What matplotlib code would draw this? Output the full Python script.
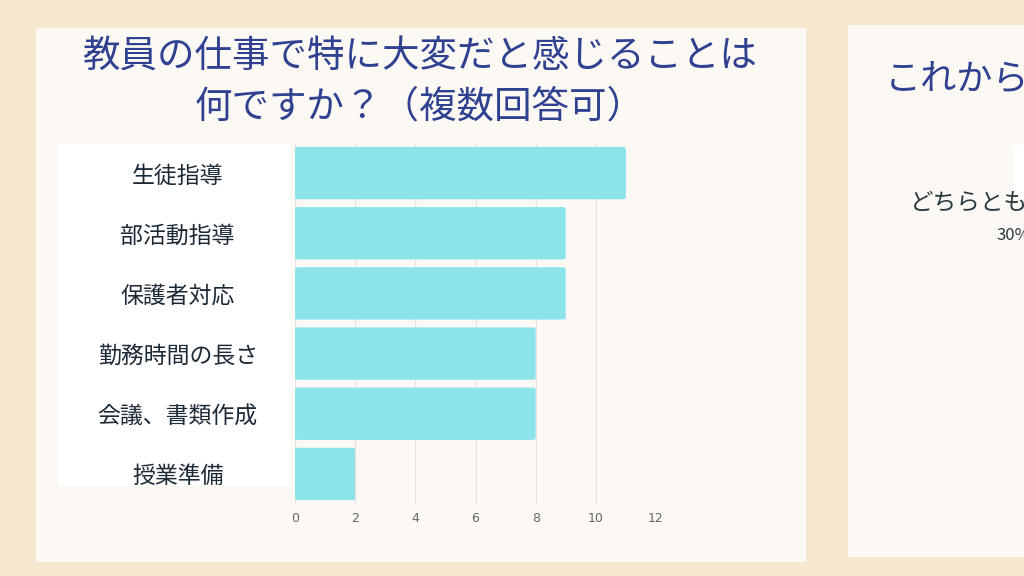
import matplotlib
matplotlib.use("Agg")
import matplotlib.pyplot as plt
from matplotlib.patches import Rectangle, FancyBboxPatch

plt.rcParams['font.family'] = ['Noto Sans CJK JP', 'DejaVu Sans']

categories = ["生徒指導", "部活動指導", "保護者対応", "勤務時間の長さ", "会議、書類作成", "授業準備"]
values = [11, 9, 9, 8, 8, 2]
xticks = [0, 2, 4, 6, 8, 10, 12]
title_lines = ["教員の仕事で特に大変だと感じることは", "何ですか？（複数回答可）"]

W, H = 1024, 576
BG = "#f5e8cf"
CARD = "#fcf9f4"
BAR = "#8ce3ea"
TITLE_C = "#2f4190"
LABEL_C = "#1c2a36"

fig = plt.figure(figsize=(W/100, H/100), dpi=100)
fig.patch.set_facecolor(BG)

def px(x, y, w, h):
    return [x/W, 1-(y+h)/H, w/W, h/H]

# cards
fig.patches.append(Rectangle((36/W, 1-562/H), (806-36)/W, (562-28)/H,
                             transform=fig.transFigure, facecolor=CARD, edgecolor="none", zorder=0))
fig.patches.append(Rectangle((848/W, 1-557/H), (1030-848)/W, (557-25)/H,
                             transform=fig.transFigure, facecolor=CARD, edgecolor="none", zorder=0))
# label white box
fig.patches.append(Rectangle((58/W, 1-486/H), (290-58)/W, (486-143)/H,
                             transform=fig.transFigure, facecolor="white", edgecolor="none", zorder=1))
# small white box on right card
fig.patches.append(Rectangle((1013/W, 1-200/H), 12/W, 55/H,
                             transform=fig.transFigure, facecolor="white", edgecolor="none", zorder=1))

# titles
fig.text(420/W, 1-56/H, title_lines[0], ha="center", va="center", fontsize=27, color=TITLE_C, zorder=6)
fig.text(420/W, 1-107/H, title_lines[1], ha="center", va="center", fontsize=27, color=TITLE_C, zorder=6)
fig.text(885/W, 1-80/H, "これから", ha="left", va="center", fontsize=26, color=TITLE_C, zorder=6)
fig.text(910/W, 1-203/H, "どちらとも", ha="left", va="center", fontsize=17, color="#2b3a40", zorder=6)
fig.text(996/W, 1-236/H, "30%", ha="left", va="center", fontsize=12, color="#2b3a40", zorder=6)

ax = fig.add_axes(px(295, 143, 361, 361))
ax.set_zorder(5)
ax.set_facecolor("none")
y = list(range(len(categories)))
bars = ax.barh(y, values, height=0.87, color=BAR, zorder=2)
# give bars slightly rounded corners
for b in bars:
    b.set_visible(False)
    x0, y0 = b.get_x(), b.get_y()
    w, h = b.get_width(), b.get_height()
    ax.add_patch(FancyBboxPatch((x0, y0), w, h,
                                boxstyle="round,pad=0,rounding_size=0.08",
                                mutation_aspect=0.5, facecolor=BAR, edgecolor="none", zorder=2))
ax.set_xlim(0, 12)
ax.set_ylim(len(categories)-0.5, -0.5)
ax.set_xticks(xticks)
ax.set_xticklabels([str(t) for t in xticks], color="#666666", fontsize=9, family=["DejaVu Sans"])
ax.set_yticks([])
ax.tick_params(axis="x", length=0, pad=6)
ax.grid(axis="x", color="#e6e3de", linewidth=0.8, zorder=0)
for s in ax.spines.values():
    s.set_visible(False)

# category labels in the white box
for i, c in enumerate(categories):
    ax.text(-117/30, i + 0.05, c, ha="center", va="center", fontsize=16.5, color=LABEL_C,
            transform=ax.transData, clip_on=False, zorder=3)

fig.savefig("out.png", dpi=100, facecolor=BG)
